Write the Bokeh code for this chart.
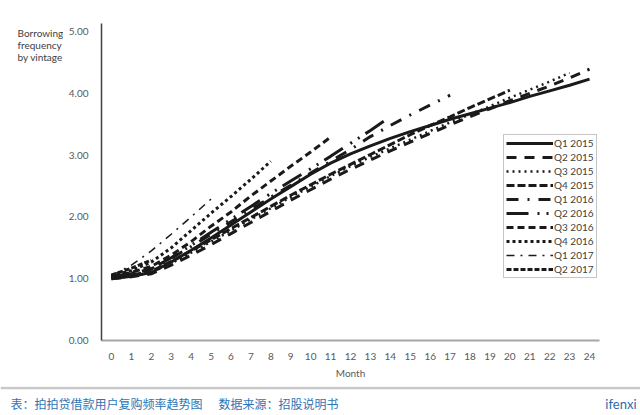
from bokeh.plotting import figure
from bokeh.models import FixedTicker, NumeralTickFormatter, Legend, LegendItem, Range1d
from bokeh.core.properties import value
from bokeh.layouts import column, row
from bokeh.embed import file_html
from bokeh.resources import INLINE

months = list(range(25))
month_labels = [str(m) for m in months]
y_ticks = [0, 1, 2, 3, 4, 5]

vintages = ["Q1 2015", "Q2 2015", "Q3 2015", "Q4 2015", "Q1 2016",
            "Q2 2016", "Q3 2016", "Q4 2016", "Q1 2017", "Q2 2017"]

q1_2015 = [1.00, 1.04, 1.10, 1.27, 1.46, 1.66, 1.87, 2.08, 2.29, 2.49, 2.69, 2.87, 3.02,
           3.15, 3.27, 3.38, 3.48, 3.58, 3.67, 3.76, 3.85, 3.95, 4.04, 4.13, 4.23]
q2_2015 = [1.00, 1.03, 1.08, 1.22, 1.38, 1.55, 1.73, 1.91, 2.09, 2.27, 2.44, 2.61, 2.77,
           2.92, 3.07, 3.21, 3.35, 3.49, 3.62, 3.75, 3.88, 4.00, 4.12, 4.25, 4.39]
q3_2015 = [1.00, 1.04, 1.10, 1.25, 1.42, 1.60, 1.78, 1.96, 2.14, 2.32, 2.49, 2.66, 2.82,
           2.97, 3.11, 3.25, 3.39, 3.53, 3.66, 3.79, 3.93, 4.06, 4.19, 4.33]
q4_2015 = [1.02, 1.06, 1.12, 1.28, 1.45, 1.63, 1.81, 1.99, 2.17, 2.35, 2.52, 2.69, 2.85,
           3.01, 3.17, 3.33, 3.48, 3.62, 3.77, 3.91, 4.05]
q1_2016 = [1.03, 1.08, 1.16, 1.33, 1.52, 1.72, 1.92, 2.12, 2.32, 2.51, 2.71, 2.90, 3.09,
           3.30, 3.48, 3.65, 3.81, 3.97]
q2_2016 = [1.03, 1.08, 1.16, 1.34, 1.54, 1.75, 1.96, 2.17, 2.38, 2.58, 2.78, 2.98, 3.19,
           3.40, 3.62]
q3_2016 = [1.04, 1.10, 1.20, 1.38, 1.60, 1.85, 2.08, 2.34, 2.58, 2.82, 3.05, 3.29]
q4_2016 = [1.05, 1.13, 1.27, 1.50, 1.78, 2.06, 2.33, 2.61, 2.90]
q1_2017 = [1.05, 1.22, 1.45, 1.72, 2.00, 2.29]
q2_2017 = [1.06, 1.17, 1.30]

series = [q1_2015, q2_2015, q3_2015, q4_2015, q1_2016,
          q2_2016, q3_2016, q4_2016, q1_2017, q2_2017]
dashes = ["solid", "10 8", "2 4", "8 3", "12 9 2 9",
          "22 9 2 7 2 7", "7 4", "3 3", "8 6 2 6", "5 2"]
widths = [3, 3, 2.5, 3, 3, 3, 3, 3, 1.5, 3]

y_title_lines = ["Borrowing", "frequency", "by vintage"]
caption_left = ["表：拍拍贷借款用户复购频率趋势图", "数据来源：招股说明书"]
brand = ["ifenxi"]

FONT = "Lato"
LINE = "#1a1a1a"

# main chart
p = figure(width=577, height=386, x_range=Range1d(-0.5, 24.5), y_range=Range1d(0, 5.13),
           output_backend="svg", toolbar_location=None,
           min_border_left=38, min_border_right=41, min_border_top=23, min_border_bottom=46)
p.frame_align = False
p.grid.visible = False
p.outline_line_color = None

p.xaxis.ticker = FixedTicker(ticks=months)
p.xaxis.major_label_overrides = {m: lab for m, lab in zip(months, month_labels)}
p.yaxis.ticker = FixedTicker(ticks=y_ticks)
p.yaxis.formatter = NumeralTickFormatter(format="0.00")
p.axis.major_tick_line_color = None
p.axis.minor_tick_line_color = None
p.axis.major_label_text_font = FONT
p.axis.major_label_text_font_size = "10px"
p.axis.major_label_text_color = "#595959"
p.yaxis.axis_line_color = "#404040"
p.yaxis.axis_line_width = 1.5
p.xaxis.axis_line_color = "#a6a6a6"
p.xaxis.axis_line_width = 2
p.yaxis.major_label_standoff = 7
p.xaxis.major_label_standoff = 6
p.xaxis.axis_label = "Month"
p.xaxis.axis_label_text_font = FONT
p.xaxis.axis_label_text_font_size = "10px"
p.xaxis.axis_label_text_font_style = "normal"
p.xaxis.axis_label_text_color = "#595959"
p.xaxis.axis_label_standoff = 4

items = []
for name, vals, dash, w in zip(vintages, series, dashes, widths):
    r = p.line(months[:len(vals)], vals, line_color=LINE, line_width=w, line_dash=dash)
    items.append(LegendItem(label=name, renderers=[r]))

legend = Legend(items=items, location=(402, 62), orientation="vertical",
                border_line_color="#8c8c8c", border_line_width=1,
                background_fill_color="white", background_fill_alpha=1,
                padding=2, spacing=2, margin=0, label_standoff=1,
                glyph_width=47, glyph_height=12, label_height=12,
                label_text_font=FONT, label_text_font_size="10px",
                label_text_color="#404040")
p.add_layout(legend)

# left strip with the y title
left = figure(width=63, height=386, x_range=Range1d(0, 63), y_range=Range1d(386, 0),
              output_backend="svg", toolbar_location=None,
              min_border_left=0, min_border_right=0, min_border_top=0, min_border_bottom=0)
left.frame_align = False
left.axis.visible = False
left.grid.visible = False
left.outline_line_color = None
left.text(x=[17, 17, 17], y=[32, 44, 56], text=y_title_lines,
          text_font=value(FONT), text_font_size="10px", text_color="#404040",
          text_baseline="middle")

# caption strip
cap = figure(width=640, height=29, x_range=Range1d(0, 640), y_range=Range1d(29, 0),
             output_backend="svg", toolbar_location=None,
             min_border_left=0, min_border_right=0, min_border_top=0, min_border_bottom=0)
cap.frame_align = False
cap.axis.visible = False
cap.grid.visible = False
cap.outline_line_color = None
cap.segment(x0=[0], y0=[1.5], x1=[640], y1=[1.5], line_color="#c8c8c8", line_width=2.5)
cap.text(x=[10, 218], y=[17, 17], text=caption_left,
         text_font=value("Noto Sans CJK SC"), text_font_size="12px", text_color="#2e74b5",
         text_baseline="middle")
cap.text(x=[636], y=[17], text=brand, text_font=value(FONT), text_font_size="13px",
         text_color="#2e6aa8", text_baseline="middle", text_align="right")

layout = column(row(left, p, spacing=0), cap, spacing=0)
open("out.html", "w").write(file_html(layout, INLINE))
